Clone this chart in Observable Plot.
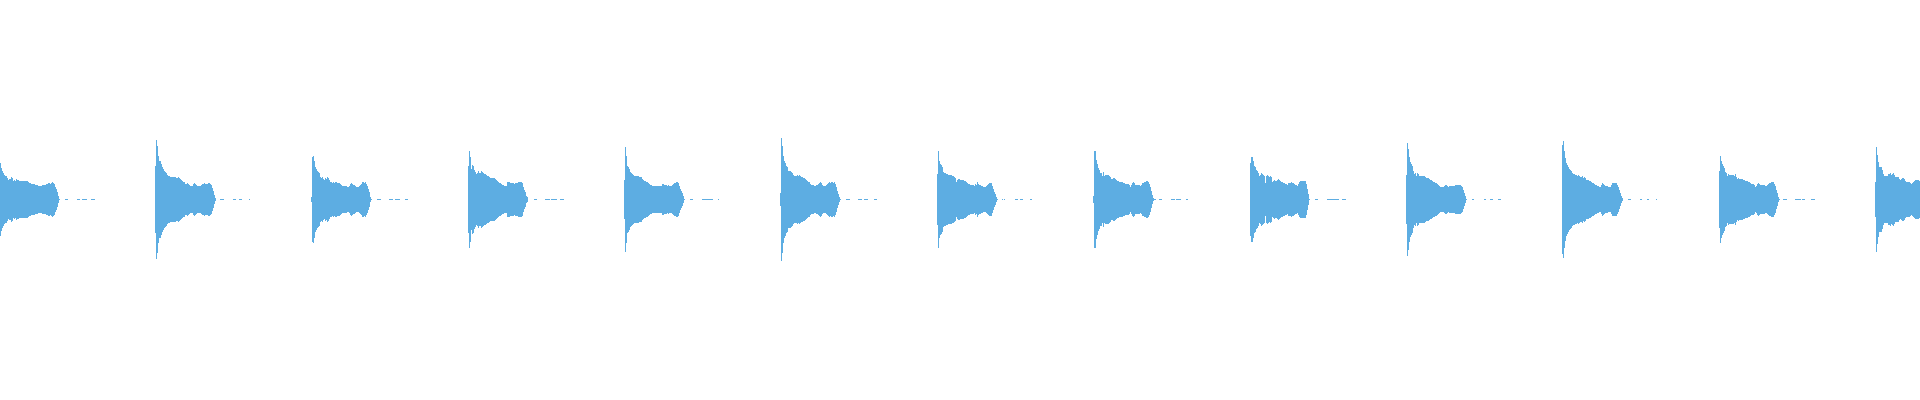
<!DOCTYPE html>
<html><head><meta charset="utf-8">
<script src="https://cdn.jsdelivr.net/npm/d3@7"></script>
<script src="https://cdn.jsdelivr.net/npm/@observablehq/plot@0.6"></script>
<style>
body{margin:0;background:#fff}
#chart svg rect{shape-rendering:crispEdges}
</style>
</head><body><div id="chart"></div>
<script>
// Onset (sample column) of each hit
const onsets = [0,155,311,468,624,780,937,1093,1250,1406,1562,1719,1875];

// Peak amplitude per column for each hit
const env0 = [37,32,29,27,25,24,24,22,20,21,21,23,22,19,20,19,21,20,20,19,19,19,19,19,19,19,19,19,18,17,17,16,16,16,16,15,15,15,14,14,14,14,15,15,15,15,16,16,17,17,16,17,18,17,16,13,11,8,4,1];
const env1 = [34,60,54,44,39,39,36,33,31,29,28,27,25,24,24,23,23,23,23,23,23,22,22,23,22,21,20,19,18,18,16,16,17,16,15,14,14,14,16,17,16,15,14,14,14,14,15,16,16,17,16,16,16,17,17,16,15,12,9,5,2];
const env2 = [3,43,44,39,33,31,29,28,27,23,22,23,21,20,22,21,23,22,20,18,18,17,18,17,18,18,17,17,17,16,15,14,14,14,14,14,13,13,14,16,17,16,15,15,14,13,13,13,14,15,16,18,18,17,18,16,14,11,8,3,1];
const env3 = [34,49,43,31,35,34,30,28,26,27,29,27,27,29,28,27,26,26,25,24,24,23,22,22,22,22,22,21,20,19,18,17,17,16,15,15,14,14,14,18,18,18,17,17,17,17,16,17,17,17,18,18,18,18,17,13,10,8,4,3];
const env4 = [20,53,44,34,33,31,28,27,26,25,24,24,24,24,24,23,23,23,21,20,19,19,18,18,17,16,15,15,14,14,14,14,14,14,14,14,14,14,16,16,15,15,15,14,15,14,14,14,15,16,17,17,18,18,17,14,11,9,7,4,1];
const env5 = [7,62,54,44,39,37,34,33,29,29,29,28,27,25,24,24,24,25,24,25,24,23,23,22,22,21,20,19,18,18,16,15,15,15,14,14,15,15,16,17,18,17,15,14,14,14,15,16,17,18,17,18,18,17,18,16,13,9,6,3,1];
const env6 = [26,49,39,36,35,33,28,27,27,26,26,25,25,25,25,24,24,23,22,18,20,21,21,20,20,20,20,19,19,18,17,16,16,15,15,15,15,14,16,15,18,16,15,15,14,14,13,13,13,14,15,16,17,17,17,14,11,8,6,3,1];
const env7 = [4,49,49,40,36,32,30,27,27,24,28,24,25,25,25,25,24,23,21,21,22,22,21,20,19,19,18,18,18,18,17,17,16,16,16,16,15,13,15,17,18,17,15,15,15,15,15,14,15,17,17,18,18,19,19,18,16,13,9,5,2];
const env8 = [37,43,43,39,34,33,30,29,27,24,25,27,26,25,24,17,24,25,24,23,24,23,18,19,20,19,19,20,21,20,19,18,18,17,17,16,16,15,17,17,17,18,17,17,16,15,15,14,16,18,19,19,19,19,19,19,16,11,6,1];
const env9 = [25,57,51,43,38,36,34,29,26,27,24,27,26,24,24,24,24,24,24,23,22,22,22,21,20,20,19,18,18,17,17,16,15,14,13,13,13,13,14,15,15,14,13,14,14,14,14,14,14,15,15,15,15,15,15,14,13,10,7,4,1];
const env10 = [55,59,49,42,37,35,33,31,30,29,27,26,26,25,25,24,25,24,23,23,24,22,23,22,20,20,20,19,19,18,17,17,16,15,15,14,14,13,13,15,17,16,15,14,14,14,13,13,13,15,17,17,17,17,17,15,13,10,7,4,2];
const env11 = [29,44,39,36,34,32,28,27,24,26,25,25,25,25,25,24,26,23,21,22,21,21,21,21,20,20,19,19,19,18,18,17,16,16,16,15,13,14,16,17,16,15,15,15,15,15,14,14,15,16,17,17,18,18,18,16,14,10,7,3,1];
const env12 = [18,53,45,38,33,33,33,30,26,24,24,24,24,26,26,27,25,26,27,25,23,23,23,23,21,20,21,22,22,21,19,18,18,18,18,17,16,17,18,19,20,20,20,20,19];

// Faint residual segments after each hit: [from, to] column offsets
const tails = [
  [[65,67],[77,79],[82,86],[91,94]],
  [[65,68],[78,80],[84,86],[94,94]],
  [[66,69],[78,81],[84,88],[94,96]],
  [[66,68],[77,81],[83,88],[92,95]],
  [[66,68],[78,82],[83,88],[94,94]],
  [[66,69],[78,81],[84,87],[94,96]],
  [[65,65],[67,67],[78,80],[83,85],[93,94]],
  [[61,62],[66,68],[78,81],[83,87],[93,94]],
  [[65,67],[77,81],[82,88],[92,95]],
  [[66,67],[78,79],[84,86],[92,94]],
  [[66,68],[78,79],[85,86],[94,94]],
  [[64,67],[76,81],[83,85],[92,95]],
  []
];
const residual = 0.7;

const envelopes = [env0,env1,env2,env3,env4,env5,env6,env7,env8,env9,env10,env11,env12];
const data = [];
envelopes.forEach((env, k) => {
  env.forEach((a, i) => data.push({t: onsets[k] + i, a}));
  tails[k].forEach(([s, e]) => { for (let i = s; i <= e; i++) data.push({t: onsets[k] + i, a: residual}); });
});

const chart = Plot.plot({
  width: 1920,
  height: 400,
  marginTop: 0, marginRight: 0, marginLeft: 0, marginBottom: 1,
  x: {domain: [0, 1920], axis: null},
  y: {domain: [-200, 200], axis: null},
  marks: [
    Plot.rect(data, {x1: "t", x2: d => d.t + 1, y1: d => -d.a, y2: "a", fill: "#5dade2"})
  ]
});
document.getElementById("chart").append(chart);
</script>
</body></html>
